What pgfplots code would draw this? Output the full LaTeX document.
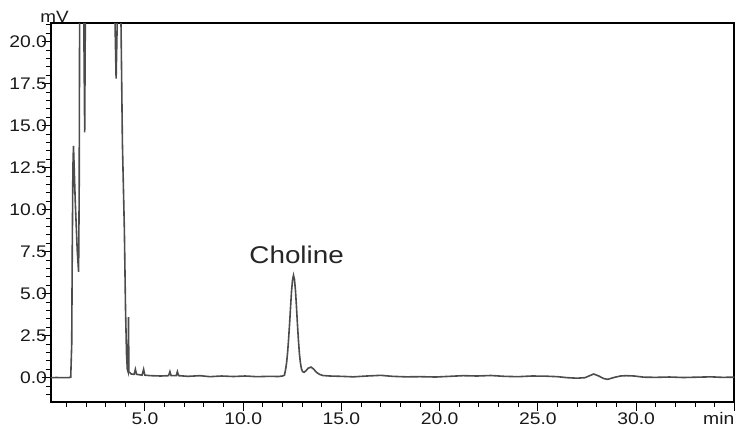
\documentclass[border=0pt]{standalone}
\usepackage{pgfplots}
\pgfplotsset{compat=1.18}
\usepackage{fontspec}
\setmainfont{Liberation Sans}

\begin{document}
\begin{tikzpicture}
\useasboundingbox (0,0) rectangle (368.5pt,214pt);
\begin{axis}[
  name=ax,
  at={(25.35pt,13.15pt)}, anchor=south west,
  scale only axis, width=341.8pt, height=189.2pt,
  xmin=0.2, xmax=35, ymin=-1.43, ymax=21.1,
  axis line style={black, line width=1pt},
  tick align=outside, tick style={black, line width=0.5pt},
  major tick length=4.5pt, minor tick length=2.5pt,
  xtick={5,10,15,20,25,30,35},
  xticklabels={5.0,10.0,15.0,20.0,25.0,30.0,\makebox[0pt][r]{min}},
  minor xtick={1,2,...,34},
  ytick={0,2.5,5,7.5,10,12.5,15,17.5,20},
  yticklabels={0.0,2.5,5.0,7.5,10.0,12.5,15.0,17.5,20.0},
  minor ytick={-1,-0.5,...,21},
  xtick pos=bottom, ytick pos=left,
  /pgf/number format/assume math mode=true,
  tick label style={font=\fontsize{8.4}{10}\selectfont, text=black!90, xscale=1.15},
  yticklabel style={anchor=east, inner sep=0pt, xshift=2.5pt},
  xticklabel style={anchor=north, inner sep=0pt, yshift=-0.8pt},
]
\addplot[black!70, line width=0.8pt] coordinates {
(0.2,0.00) (0.5,0.01) (0.8,0.00) (1.1,0.00) (1.22,0.03)
(1.27,2.0) (1.30,8.0) (1.33,12.5) (1.36,13.8)
(1.45,10.5) (1.55,7.6) (1.62,6.3)
(1.65,11) (1.68,25) (1.86,25) (1.93,14.6) (1.98,25) (2.1,60)
(3.35,60) (3.46,22) (3.53,17.8) (3.60,22) (3.72,30)
(3.78,21) (3.85,14) (3.95,8.8) (4.01,4.0) (4.06,1.4) (4.10,0.5)
(4.14,0.35) (4.16,3.6) (4.18,0.35)
(4.30,0.22) (4.45,0.2) (4.51,0.5) (4.57,0.2)
(4.85,0.15) (4.93,0.5) (4.99,0.15)
(5.3,0.12) (5.8,0.1) (6.2,0.12) (6.27,0.36) (6.33,0.12)
(6.59,0.12) (6.65,0.36) (6.71,0.12)
(7.2,0.08) (7.8,0.12) (8.3,0.06) (8.9,0.1) (9.5,0.07)
(10.1,0.1) (10.7,0.06) (11.3,0.08) (11.8,0.07)
(12.0,0.1) (12.1,0.15) (12.16,0.5) (12.21,0.9) (12.26,1.5)
(12.31,2.3) (12.36,3.2) (12.41,4.2) (12.46,5.15) (12.51,5.8)
(12.56,6.1) (12.61,5.85) (12.66,5.2) (12.71,4.25) (12.76,3.2)
(12.81,2.25) (12.86,1.45) (12.91,0.9) (12.96,0.55) (13.02,0.36)
(13.1,0.32) (13.2,0.42) (13.3,0.56) (13.45,0.63) (13.58,0.52)
(13.72,0.33) (13.88,0.2) (14.05,0.13) (14.4,0.1)
(15.0,0.08) (15.6,0.05) (16.3,0.1) (17.0,0.14) (17.6,0.08)
(18.3,0.05) (19.0,0.06) (19.8,0.04) (20.5,0.08) (21.2,0.12)
(21.9,0.1) (22.6,0.13) (23.3,0.08) (24.0,0.06) (24.7,0.1)
(25.4,0.09) (26.0,0.06) (26.5,0.0) (27.0,-0.03) (27.4,0.0)
(27.6,0.1) (27.84,0.22) (28.1,0.1) (28.35,-0.05) (28.55,-0.1)
(28.9,0.02) (29.2,0.1) (29.5,0.12) (29.9,0.1) (30.4,0.03)
(31.0,0.02) (31.7,0.04) (32.4,0.01) (33.1,0.03) (33.8,0.05)
(34.4,0.02) (35.0,0.03)
};
\node[font=\fontsize{12.1}{14}\selectfont, text=black!85, xscale=1.15] at (axis cs:12.72,7.3) {Choline};
\end{axis}
\node[font=\fontsize{8.2}{10}\selectfont, text=black!90, xscale=1.15, anchor=base, inner sep=0pt, xshift=1.65pt, yshift=0.3pt] at (ax.north west) {mV};
\end{tikzpicture}
\end{document}
